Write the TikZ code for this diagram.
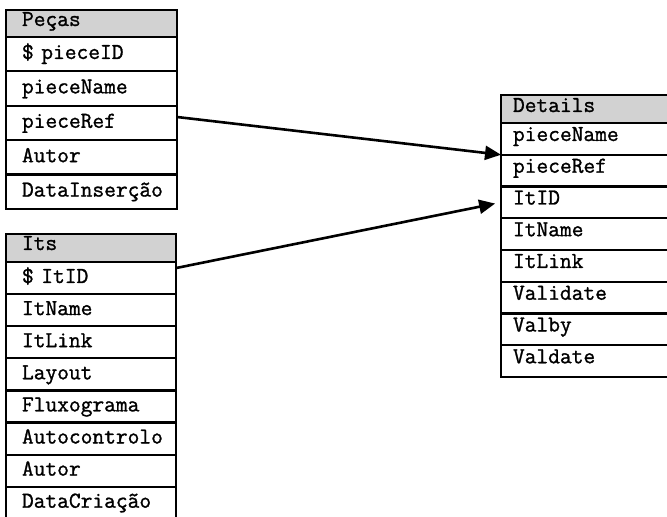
\documentclass[tikz,border=0pt]{standalone}
\usepackage{fontspec}
\newfontfamily\tabfont{Latin Modern Mono}[FakeBold=1.2]
\usetikzlibrary{arrows.meta}

\tikzset{
  field/.style={draw, line width=1.1pt, anchor=north west, outer sep=0pt, inner xsep=8pt, inner ysep=0pt,
    align=left, font=\tabfont\fontsize{11.4}{13}\selectfont},
  head/.style={field, fill=gray!35},
  link/.style={line width=1.3pt, -{Triangle[length=8pt,width=7pt]}},
}

\begin{document}
\begin{tikzpicture}[x=0.5pt, y=-0.5pt]
      \useasboundingbox (0,0) rectangle (667,517);
      \clip (0,0) rectangle (667,517);
      \node[head, text width=69.5pt, text height=8pt, text depth=5.5pt] (pecas0) at (6,10) {Peças};
      \foreach \t [count=\i, evaluate=\i as \j using int(\i-1)] in {\$~pieceID, pieceName, pieceRef, Autor, DataInserção}
        \node[field, text width=69.5pt, text height=11pt, text depth=6.2pt] (pecas\i) at (pecas\j.south west) {\t};
      \node[head, text width=69pt, text height=8pt, text depth=6pt] (its0) at (6,234) {Its};
      \foreach \t [count=\i, evaluate=\i as \j using int(\i-1)] in {\$~ItID, ItName, ItLink, Layout, Fluxograma, Autocontrolo, Autor, DataCriação}
        \node[field, text width=69pt, text height=10.5pt, text depth=5.55pt] (its\i) at (its\j.south west) {\t};
      \node[head, inner xsep=6pt, text width=78pt, text height=8.5pt, text depth=5.5pt] (det0) at (501,95) {Details};
      \foreach \t [count=\i, evaluate=\i as \j using int(\i-1)] in {pieceName, pieceRef, ItID, ItName, ItLink, Validate, Valby, Valdate}
        \node[field, inner xsep=6pt, text width=78pt, text height=9pt, text depth=6.875pt] (det\i) at (det\j.south west) {\t};
      \draw[link] ([yshift=3pt]pecas3.east) -- (det1.south west);
      \draw[link, shorten >=3pt] ([yshift=5pt]its1.east) -- (det3.west);
    \end{tikzpicture}
\end{document}
